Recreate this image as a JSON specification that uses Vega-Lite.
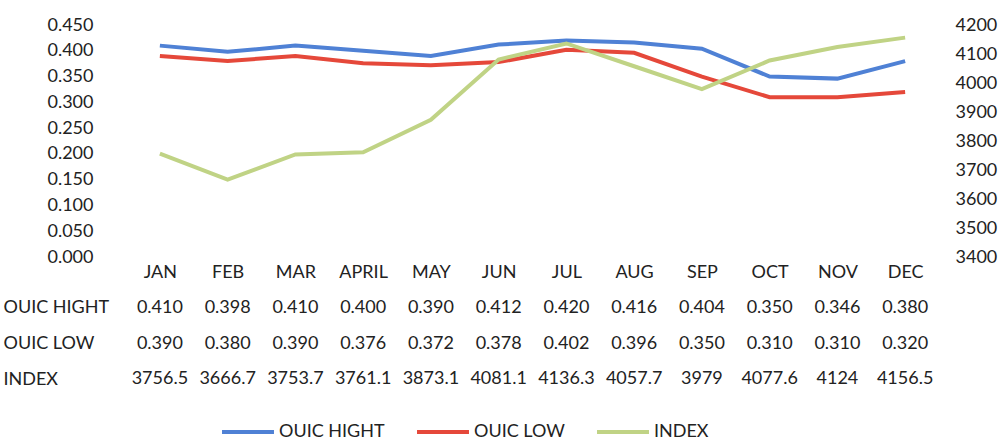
{
  "$schema": "https://vega.github.io/schema/vega-lite/v6.json",
  "padding": {"left": 3, "top": 16, "right": 5, "bottom": 2},
  "config": {
    "font": "Lato",
    "view": {"stroke": null},
    "axis": {"grid": false, "domain": false, "ticks": false, "labelFont": "Lato", "labelFontSize": 18, "labelColor": "#222222", "title": null},
    "legend": {"labelFont": "Lato", "labelFontSize": 18, "labelColor": "#222222"}
  },
  "datasets": {
    "d": [
      {"month": "JAN", "OUIC HIGHT": 0.410, "OUIC LOW": 0.390, "INDEX": 3756.5},
      {"month": "FEB", "OUIC HIGHT": 0.398, "OUIC LOW": 0.380, "INDEX": 3666.7},
      {"month": "MAR", "OUIC HIGHT": 0.410, "OUIC LOW": 0.390, "INDEX": 3753.7},
      {"month": "APRIL", "OUIC HIGHT": 0.400, "OUIC LOW": 0.376, "INDEX": 3761.1},
      {"month": "MAY", "OUIC HIGHT": 0.390, "OUIC LOW": 0.372, "INDEX": 3873.1},
      {"month": "JUN", "OUIC HIGHT": 0.412, "OUIC LOW": 0.378, "INDEX": 4081.1},
      {"month": "JUL", "OUIC HIGHT": 0.420, "OUIC LOW": 0.402, "INDEX": 4136.3},
      {"month": "AUG", "OUIC HIGHT": 0.416, "OUIC LOW": 0.396, "INDEX": 4057.7},
      {"month": "SEP", "OUIC HIGHT": 0.404, "OUIC LOW": 0.350, "INDEX": 3979},
      {"month": "OCT", "OUIC HIGHT": 0.350, "OUIC LOW": 0.310, "INDEX": 4077.6},
      {"month": "NOV", "OUIC HIGHT": 0.346, "OUIC LOW": 0.310, "INDEX": 4124},
      {"month": "DEC", "OUIC HIGHT": 0.380, "OUIC LOW": 0.320, "INDEX": 4156.5}
    ]
  },
  "spacing": 9,
  "vconcat": [
    {
      "width": 813,
      "height": 232,
      "data": {"name": "d"},
      "layer": [
        {
          "transform": [{"fold": ["OUIC HIGHT", "OUIC LOW"], "as": ["series", "value"]}],
          "mark": {"type": "line", "strokeWidth": 4},
          "encoding": {
            "x": {"field": "month", "type": "ordinal", "sort": null, "scale": {"type": "point", "padding": 0.5}, "axis": {"labelAngle": 0, "labelPadding": 6}},
            "y": {"field": "value", "type": "quantitative", "scale": {"domain": [0, 0.45], "nice": false}, "axis": {"format": ".3f", "values": [0, 0.05, 0.1, 0.15, 0.2, 0.25, 0.3, 0.35, 0.4, 0.45], "labelPadding": 33}},
            "color": {
              "field": "series", "type": "nominal",
              "scale": {"domain": ["OUIC HIGHT", "OUIC LOW", "INDEX"], "range": ["#4F81D5", "#E5483A", "#C0D385"]},
              "legend": {"title": null, "orient": "none", "legendX": 94, "legendY": 379, "direction": "horizontal", "symbolType": "stroke", "symbolSize": 2700, "symbolStrokeWidth": 4, "columnPadding": 24, "labelOffset": 3, "labelFontSize": 18}
            }
          }
        },
        {
          "mark": {"type": "line", "strokeWidth": 4},
          "encoding": {
            "x": {"field": "month", "type": "ordinal", "sort": null, "scale": {"type": "point", "padding": 0.5}},
            "y": {"field": "INDEX", "type": "quantitative", "scale": {"domain": [3400, 4200], "nice": false, "zero": false}, "axis": {"orient": "right", "format": "d", "values": [3400, 3500, 3600, 3700, 3800, 3900, 4000, 4100, 4200], "labelPadding": 16}},
            "color": {"datum": "INDEX"}
          }
        }
      ],
      "resolve": {"scale": {"y": "independent"}}
    },
    {
      "width": 813,
      "height": 107,
      "data": {"name": "d"},
      "layer": [
        {
          "transform": [{"fold": ["OUIC HIGHT", "OUIC LOW"], "as": ["series", "value"]}],
          "mark": {"type": "text", "fontSize": 18, "color": "#222222", "font": "Lato"},
          "encoding": {
            "x": {"field": "month", "type": "ordinal", "sort": null, "scale": {"type": "point", "padding": 0.5}, "axis": null},
            "y": {"field": "series", "type": "ordinal", "scale": {"domain": ["OUIC HIGHT", "OUIC LOW", "INDEX"]}, "axis": {"labelAlign": "left", "labelPadding": 123}},
            "text": {"field": "value", "type": "quantitative", "format": ".3f"}
          }
        },
        {
          "transform": [{"fold": ["INDEX"], "as": ["series", "value"]}],
          "mark": {"type": "text", "fontSize": 18, "color": "#222222", "font": "Lato"},
          "encoding": {
            "x": {"field": "month", "type": "ordinal", "sort": null, "scale": {"type": "point", "padding": 0.5}, "axis": null},
            "y": {"field": "series", "type": "ordinal", "scale": {"domain": ["OUIC HIGHT", "OUIC LOW", "INDEX"]}},
            "text": {"field": "value", "type": "quantitative"}
          }
        }
      ]
    }
  ]
}
